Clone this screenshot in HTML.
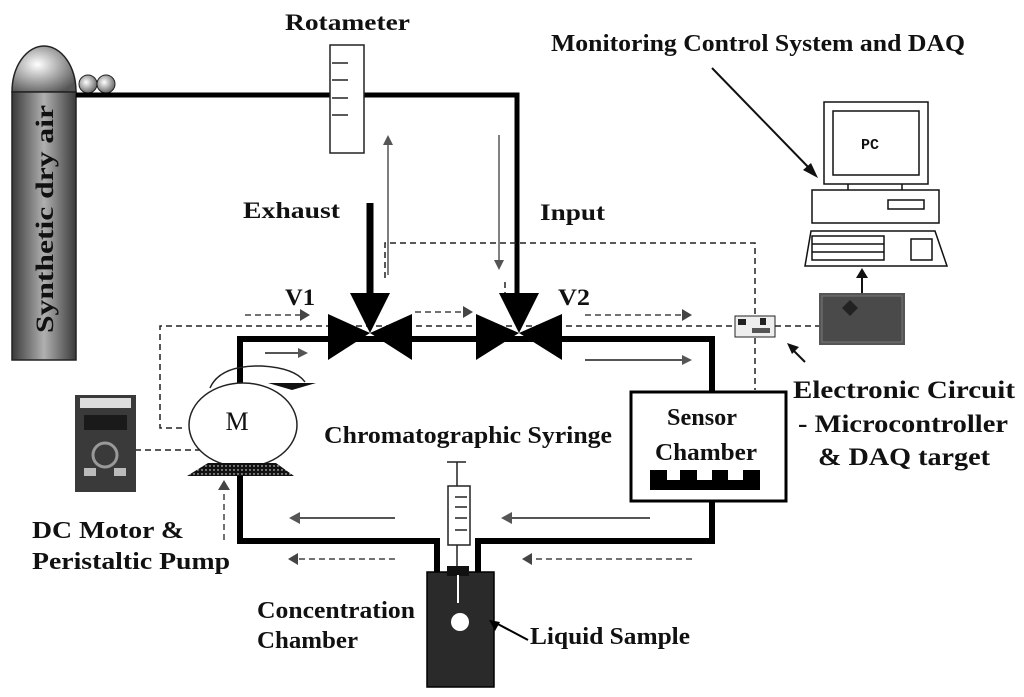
<!DOCTYPE html>
<html><head><meta charset="utf-8"><style>
html,body{margin:0;padding:0;background:#fff}
svg{display:block}
text{font-family:"Liberation Serif",serif;font-weight:bold;fill:#111}
</style></head><body>
<svg width="1024" height="697" viewBox="0 0 1024 697" xmlns="http://www.w3.org/2000/svg">
<defs>
<linearGradient id="cyl" x1="0" x2="1" y1="0" y2="0">
<stop offset="0" stop-color="#3a3a3a"/><stop offset="0.5" stop-color="#b0b0b0"/><stop offset="1" stop-color="#3a3a3a"/>
</linearGradient>
<radialGradient id="dome" cx="0.4" cy="0.4" r="0.7">
<stop offset="0" stop-color="#fff"/><stop offset="1" stop-color="#555"/>
</radialGradient>
<pattern id="dots" width="4" height="4" patternUnits="userSpaceOnUse"><rect width="4" height="4" fill="#111"/><circle cx="2" cy="2" r="0.7" fill="#fff"/></pattern>
</defs>

<!-- cylinder -->
<path d="M12,92 A32,46 0 0 1 76,92 Z" fill="url(#dome)" stroke="#222" stroke-width="1.5"/>
<rect x="12" y="92" width="64" height="268" fill="url(#cyl)" stroke="#222" stroke-width="1.5"/>
<circle cx="88" cy="84" r="9" fill="url(#dome)" stroke="#222"/>
<circle cx="106" cy="84" r="9" fill="url(#dome)" stroke="#222"/>
<text transform="translate(53,333) rotate(-90)" font-size="25" textLength="228" lengthAdjust="spacingAndGlyphs">Synthetic dry air</text>

<!-- top pipe -->
<polyline points="76,95 517,95 517,295" fill="none" stroke="#000" stroke-width="5"/>
<rect x="330" y="45" width="34" height="108" fill="#fff" stroke="#222" stroke-width="1.5"/>
<g stroke="#222" stroke-width="1.5"><line x1="332" y1="63" x2="348" y2="63"/><line x1="332" y1="80" x2="348" y2="80"/><line x1="332" y1="98" x2="348" y2="98"/><line x1="332" y1="115" x2="348" y2="115"/></g>
<text x="285" y="30" font-size="23" textLength="125" lengthAdjust="spacingAndGlyphs">Rotameter</text>

<!-- thin gray arrows -->
<line x1="388" y1="275" x2="388" y2="140" stroke="#555" stroke-width="1.5"/>
<path d="M383,145 L388,135 L393,145Z" fill="#555"/>
<line x1="499" y1="135" x2="499" y2="262" stroke="#555" stroke-width="1.5"/>
<path d="M494,260 L499,270 L504,260Z" fill="#555"/>

<text x="243" y="218" font-size="23" textLength="97" lengthAdjust="spacingAndGlyphs">Exhaust</text>
<text x="540" y="220" font-size="23" textLength="65" lengthAdjust="spacingAndGlyphs">Input</text>
<line x1="370" y1="203" x2="370" y2="295" stroke="#000" stroke-width="7"/>

<!-- dashed lines -->
<g fill="none" stroke="#222" stroke-width="1.5" stroke-dasharray="6,4">
<polyline points="385,278 385,243 755,243 755,390"/>
<polyline points="505,282 505,300"/>
<polyline points="182,428 160,428 160,326 740,326"/>
<line x1="775" y1="326" x2="820" y2="326"/>
<line x1="105" y1="450" x2="205" y2="450"/>
</g>
<g stroke="#444" stroke-width="1.5" stroke-dasharray="6,4" fill="none">
<line x1="245" y1="315" x2="300" y2="315"/>
<line x1="415" y1="312" x2="463" y2="312"/>
<line x1="585" y1="315" x2="682" y2="315"/>
<line x1="395" y1="559" x2="298" y2="559"/>
<line x1="692" y1="559" x2="532" y2="559"/>
<line x1="224" y1="540" x2="224" y2="490"/>
</g>
<g fill="#444">
<path d="M300,309 L310,315 L300,321Z"/><path d="M463,306 L473,312 L463,318Z"/><path d="M682,309 L692,315 L682,321Z"/>
<path d="M298,553 L288,559 L298,565Z"/><path d="M532,553 L522,559 L532,565Z"/><path d="M218,490 L224,480 L230,490Z"/>
</g>

<!-- main loop -->
<g fill="none" stroke="#000" stroke-width="6">
<polyline points="240,383 240,339 712,339 712,392"/>
<polyline points="240,476 240,541 437,541 437,576"/>
<polyline points="712,501 712,541 478,541 478,576"/>
</g>
<!-- valves -->
<g fill="#000">
<path d="M328,314 L370,333 L328,360Z M412,314 L370,333 L412,360Z M350,293 L390,293 L370,333Z"/>
<path d="M476,314 L519,333 L476,360Z M562,314 L519,333 L562,360Z M499,293 L539,293 L519,333Z"/>
</g>
<text x="285" y="305" font-size="23" textLength="30" lengthAdjust="spacingAndGlyphs">V1</text>
<text x="558" y="305" font-size="23" textLength="32" lengthAdjust="spacingAndGlyphs">V2</text>

<!-- solid gray flow arrows -->
<g stroke="#555" stroke-width="2" fill="none">
<line x1="265" y1="353" x2="298" y2="353"/><line x1="585" y1="360" x2="682" y2="360"/>
<line x1="395" y1="518" x2="300" y2="518"/><line x1="650" y1="518" x2="512" y2="518"/>
</g>
<g fill="#555">
<path d="M298,348 L308,353 L298,358Z"/><path d="M682,355 L692,360 L682,365Z"/>
<path d="M300,512 L289,518 L300,524Z"/><path d="M512,512 L501,518 L512,524Z"/>
</g>

<!-- motor -->
<path d="M210,388 Q220,365 262,366 Q295,368 305,382" fill="none" stroke="#222" stroke-width="1.5"/>
<path d="M268,383 L316,383 L292,390 Z" fill="#111"/>
<ellipse cx="243" cy="425" rx="54" ry="42" fill="#fff" stroke="#222" stroke-width="1.5"/>
<path d="M187,476 L208,463 L276,463 L294,476 Z" fill="url(#dots)"/>
<text x="237" y="430" font-size="26" text-anchor="middle" style="font-weight:normal">M</text>

<!-- pump photo -->
<rect x="75" y="395" width="61" height="97" fill="#3a3a3a"/>
<rect x="80" y="398" width="51" height="10" fill="#ddd"/>
<rect x="84" y="415" width="43" height="15" fill="#1a1a1a"/>
<circle cx="105" cy="455" r="12" fill="none" stroke="#999" stroke-width="3"/>
<rect x="84" y="468" width="12" height="8" fill="#bbb"/><rect x="114" y="468" width="12" height="8" fill="#bbb"/>
<text x="32" y="538" font-size="24" textLength="152" lengthAdjust="spacingAndGlyphs">DC Motor &amp;</text>
<text x="32" y="569" font-size="24" textLength="198" lengthAdjust="spacingAndGlyphs">Peristaltic Pump</text>

<!-- syringe -->
<line x1="447" y1="462" x2="466" y2="462" stroke="#222" stroke-width="1.5"/>
<line x1="457" y1="462" x2="457" y2="600" stroke="#222" stroke-width="1.5"/>
<rect x="448" y="486" width="22" height="59" fill="#fff" stroke="#222" stroke-width="1.5"/>
<g stroke="#222" stroke-width="1.5"><line x1="455" y1="497" x2="467" y2="497"/><line x1="455" y1="507" x2="467" y2="507"/><line x1="455" y1="518" x2="467" y2="518"/><line x1="455" y1="530" x2="467" y2="530"/></g>
<text x="324" y="443" font-size="24" textLength="288" lengthAdjust="spacingAndGlyphs">Chromatographic Syringe</text>

<!-- chamber -->
<rect x="427" y="572" width="67" height="115" fill="#2a2a2a" stroke="#000" stroke-width="1.5"/>
<rect x="447" y="566" width="22" height="10" fill="#111"/>
<line x1="458" y1="575" x2="458" y2="603" stroke="#fff" stroke-width="2"/>
<circle cx="460" cy="622" r="9" fill="#fff"/>
<line x1="494" y1="622" x2="528" y2="640" stroke="#000" stroke-width="2"/>
<path d="M489,620 L500,622 L495,631Z" fill="#000"/>
<text x="257" y="618" font-size="24" textLength="158" lengthAdjust="spacingAndGlyphs">Concentration</text>
<text x="257" y="648" font-size="24" textLength="101" lengthAdjust="spacingAndGlyphs">Chamber</text>
<text x="530" y="644" font-size="24" textLength="160" lengthAdjust="spacingAndGlyphs">Liquid Sample</text>

<!-- sensor chamber -->
<rect x="631" y="392" width="155" height="109" fill="#fff" stroke="#000" stroke-width="3"/>
<text x="667" y="425" font-size="24" textLength="70" lengthAdjust="spacingAndGlyphs">Sensor</text>
<text x="655" y="460" font-size="24" textLength="102" lengthAdjust="spacingAndGlyphs">Chamber</text>
<path d="M650,470 L667,470 L667,480 L680,480 L680,470 L697,470 L697,480 L712,480 L712,470 L728,470 L728,480 L743,480 L743,470 L760,470 L760,490 L650,490 Z" fill="#000"/>

<!-- circuits -->
<rect x="735" y="316" width="40" height="21" fill="#eee" stroke="#222"/>
<rect x="738" y="319" width="8" height="6" fill="#222"/><rect x="760" y="318" width="6" height="7" fill="#222"/><rect x="752" y="328" width="18" height="5" fill="#555"/>
<rect x="819" y="293" width="86" height="52" fill="#555"/>
<rect x="822" y="296" width="80" height="46" fill="#4a4a4a" stroke="#777"/>
<path d="M850,300 L858,308 L850,316 L842,308Z" fill="#222"/>
<line x1="862" y1="293" x2="862" y2="275" stroke="#111" stroke-width="2"/>
<path d="M856,278 L862,268 L868,278Z" fill="#111"/>
<line x1="805" y1="362" x2="791" y2="348" stroke="#111" stroke-width="2"/>
<path d="M787,343 L799,347 L792,354Z" fill="#111"/>
<text x="793" y="398" font-size="25" textLength="222" lengthAdjust="spacingAndGlyphs">Electronic Circuit</text>
<text x="798" y="432" font-size="25" textLength="210" lengthAdjust="spacingAndGlyphs">- Microcontroller</text>
<text x="818" y="465" font-size="25" textLength="172" lengthAdjust="spacingAndGlyphs">&amp; DAQ target</text>

<!-- PC -->
<g fill="#fff" stroke="#111" stroke-width="1.5">
<rect x="824" y="102" width="104" height="82"/>
<rect x="833" y="111" width="86" height="64"/>
<rect x="812" y="190" width="127" height="33"/>
<rect x="888" y="200" width="36" height="9"/>
<path d="M805,266 L811,231 L935,231 L947,266 Z"/>
<rect x="812" y="236" width="72" height="24"/>
<rect x="911" y="239" width="21" height="21"/>
</g>
<g stroke="#111" stroke-width="1.5"><line x1="812" y1="244" x2="884" y2="244"/><line x1="812" y1="252" x2="884" y2="252"/><line x1="848" y1="184" x2="848" y2="190"/><line x1="902" y1="184" x2="902" y2="190"/></g>
<text x="861" y="149" font-size="15" style="font-family:'Liberation Mono',monospace;font-weight:bold">PC</text>
<line x1="712" y1="68" x2="812" y2="171" stroke="#111" stroke-width="2"/>
<path d="M818,178 L803,170 L811,163Z" fill="#111"/>
<text x="551" y="51" font-size="24" textLength="414" lengthAdjust="spacingAndGlyphs">Monitoring Control System and DAQ</text>
</svg>
</body></html>
